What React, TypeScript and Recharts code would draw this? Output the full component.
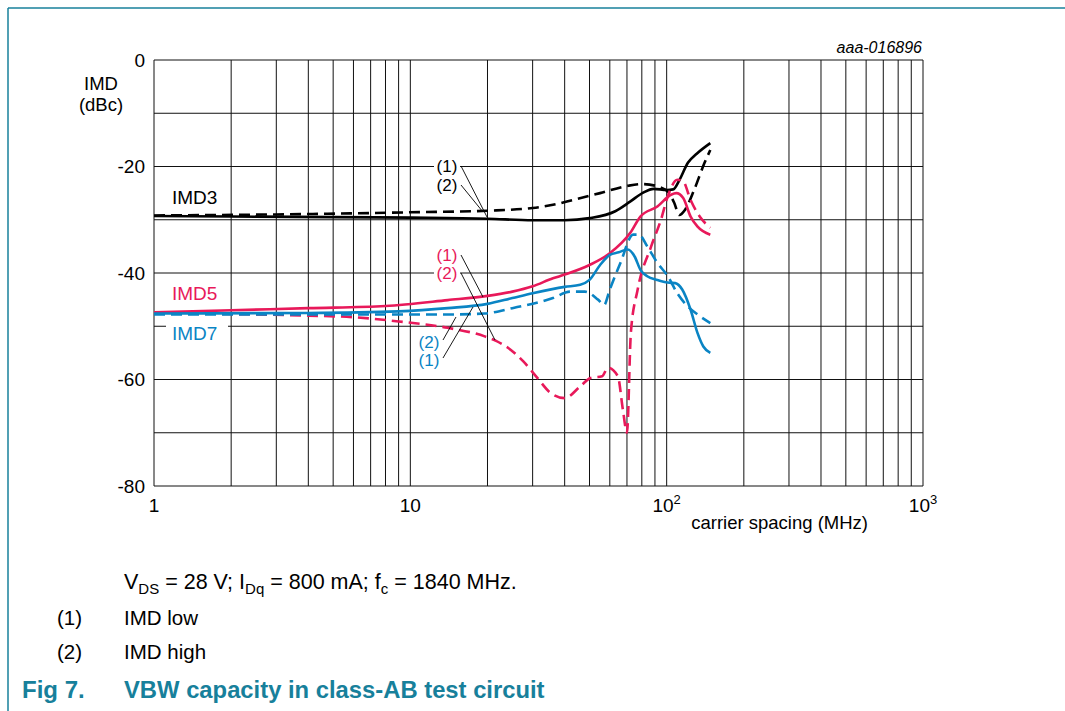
import React from 'react';
import { LineChart, Line, XAxis, YAxis, CartesianGrid } from 'recharts';

type Pt = { f: number; v: number };

// carrier spacing (MHz) vs IMD (dBc)
const imd3Low: Pt[] = [
  { f: 1, v: -29.3 }, { f: 2, v: -29.4 }, { f: 5, v: -29.5 }, { f: 10, v: -29.6 },
  { f: 20, v: -29.8 }, { f: 30, v: -30.1 }, { f: 40, v: -30.1 }, { f: 50, v: -29.7 },
  { f: 63, v: -28.4 }, { f: 72, v: -26.6 }, { f: 81, v: -24.9 }, { f: 89, v: -24.2 },
  { f: 100, v: -24.4 }, { f: 106, v: -24.3 }, { f: 112, v: -22.6 }, { f: 121, v: -19.3 },
  { f: 131, v: -17.6 }, { f: 148, v: -15.6 },
];

const imd3High: Pt[] = [
  { f: 1, v: -29.2 }, { f: 3, v: -29.0 }, { f: 6, v: -28.8 }, { f: 10, v: -28.6 },
  { f: 20, v: -28.3 }, { f: 30, v: -27.8 }, { f: 36, v: -27.2 }, { f: 43, v: -26.3 },
  { f: 55, v: -25.0 }, { f: 71, v: -23.6 }, { f: 81, v: -23.3 }, { f: 93, v: -23.8 },
  { f: 101, v: -24.7 }, { f: 107, v: -26.8 }, { f: 112, v: -29.1 }, { f: 118, v: -28.1 },
  { f: 128, v: -24.4 }, { f: 140, v: -19.5 }, { f: 148, v: -16.9 },
];

const imd5Low: Pt[] = [
  { f: 1, v: -47.4 }, { f: 2, v: -47.0 }, { f: 4, v: -46.6 }, { f: 8, v: -46.2 },
  { f: 14, v: -45.1 }, { f: 20, v: -44.3 }, { f: 25, v: -43.5 }, { f: 30, v: -42.5 },
  { f: 36, v: -41.0 }, { f: 40, v: -40.3 }, { f: 50, v: -38.5 }, { f: 60, v: -36.3 },
  { f: 72, v: -32.5 }, { f: 79, v: -29.4 }, { f: 92, v: -27.5 }, { f: 104, v: -25.3 },
  { f: 109, v: -25.0 }, { f: 116, v: -25.9 }, { f: 124, v: -29.4 }, { f: 132, v: -31.3 },
  { f: 148, v: -32.8 },
];

const imd5High: Pt[] = [
  { f: 1, v: -47.6 }, { f: 2, v: -47.7 }, { f: 4, v: -48.0 }, { f: 6, v: -48.3 },
  { f: 9, v: -49.1 }, { f: 14, v: -50.3 }, { f: 19.5, v: -51.9 }, { f: 21.5, v: -52.7 },
  { f: 24.6, v: -54.4 }, { f: 27.6, v: -56.6 }, { f: 31.3, v: -59.7 }, { f: 35, v: -62.4 },
  { f: 40, v: -63.5 }, { f: 46, v: -61.3 }, { f: 50.5, v: -59.7 }, { f: 56, v: -59.4 },
  { f: 59, v: -57.8 }, { f: 64.5, v: -59.4 }, { f: 67.5, v: -65.7 }, { f: 70, v: -70.0 },
  { f: 72.5, v: -51.2 }, { f: 77, v: -43.2 }, { f: 87, v: -35.0 }, { f: 95, v: -30.0 },
  { f: 101, v: -25.6 }, { f: 110, v: -22.5 }, { f: 116, v: -22.8 }, { f: 124, v: -26.3 },
  { f: 135, v: -29.5 }, { f: 148, v: -31.5 },
];

const imd7Low: Pt[] = [
  { f: 1, v: -47.6 }, { f: 4, v: -47.5 }, { f: 9, v: -47.2 }, { f: 14, v: -46.6 },
  { f: 20, v: -45.8 }, { f: 25, v: -44.7 }, { f: 30, v: -43.8 }, { f: 40, v: -42.6 },
  { f: 46, v: -42.2 }, { f: 50, v: -41.3 }, { f: 55, v: -38.5 }, { f: 60, v: -36.6 },
  { f: 65, v: -36.1 }, { f: 70.5, v: -35.6 }, { f: 75, v: -36.9 }, { f: 79, v: -39.4 },
  { f: 84, v: -40.6 }, { f: 92, v: -41.3 }, { f: 101, v: -41.8 }, { f: 108, v: -41.9 },
  { f: 115, v: -43.1 }, { f: 124, v: -46.9 }, { f: 132, v: -51.3 }, { f: 139, v: -53.8 },
  { f: 148, v: -55.0 },
];

const imd7High: Pt[] = [
  { f: 1, v: -47.8 }, { f: 6, v: -47.8 }, { f: 14, v: -47.8 }, { f: 19.5, v: -47.6 },
  { f: 25, v: -46.6 }, { f: 36, v: -44.7 }, { f: 42, v: -43.5 }, { f: 48, v: -43.5 },
  { f: 54, v: -45.0 }, { f: 57, v: -46.0 }, { f: 60, v: -43.1 }, { f: 66, v: -38.1 },
  { f: 74, v: -32.8 }, { f: 78, v: -32.8 }, { f: 84, v: -35.0 }, { f: 92, v: -38.1 },
  { f: 101, v: -40.6 }, { f: 110, v: -43.8 }, { f: 121, v: -46.3 }, { f: 132, v: -47.8 },
  { f: 148, v: -49.4 },
];

const xTicks = [
  1, 2, 3, 4, 5, 6, 7, 8, 9,
  10, 20, 30, 40, 50, 60, 70, 80, 90,
  100, 200, 300, 400, 500, 600, 700, 800, 900, 1000,
];
const xLabels: Record<number, [string, string]> = {
  1: ['1', ''], 10: ['10', ''], 100: ['10', '2'], 1000: ['10', '3'],
};
const yTicks = [-80, -70, -60, -50, -40, -30, -20, -10, 0];

const FONT = '"Liberation Sans", Arial, sans-serif';
const BLACK = '#000000';
const RED = '#E8195A';
const BLUE = '#0A84C4';
const TEAL = '#17809B';
const LW = 2.6;
const DASH = '11 6';

function XTick(props: any) {
  const { x, y, payload } = props;
  const lab = xLabels[payload.value];
  if (!lab) return null;
  return (
    <text x={x} y={y} dy="0.71em" textAnchor="middle" fontSize={19} fill="#000" fontFamily={FONT}>
      {lab[0]}
      {lab[1] && (
        <tspan dy={-8} fontSize={13}>
          {lab[1]}
        </tspan>
      )}
    </text>
  );
}

function Tag({ x, y, text, color, w }: { x: number; y: number; text: string; color: string; w: number }) {
  return (
    <g>
      <rect x={x - w / 2} y={y - 9} width={w} height={18} fill="#fff" />
      <text x={x} y={y} dy="0.35em" textAnchor="middle" fontSize={17} fill={color} fontFamily={FONT}>
        {text}
      </text>
    </g>
  );
}

export default function App() {
  return (
    <div style={{ position: 'absolute', left: 0, top: 0, width: 1065, height: 711, background: '#fff', overflow: 'hidden' }}>
      <LineChart
        width={1065}
        height={711}
        margin={{ top: 60, right: 142, left: 104, bottom: 195 }}
        style={{ position: 'absolute', left: 0, top: 0 }}
      >
        <CartesianGrid stroke="#111" strokeWidth={1} />
        <XAxis
          type="number"
          dataKey="f"
          scale="log"
          domain={[1, 1000]}
          ticks={xTicks}
          interval={0}
          allowDataOverflow
          axisLine={false}
          tickLine={false}
          tickSize={0}
          tickMargin={13}
          height={30}
          tick={<XTick />}
        />
        <YAxis
          type="number"
          domain={[-80, 0]}
          ticks={yTicks}
          interval={0}
          width={50}
          axisLine={false}
          tickLine={false}
          tickSize={0}
          tickMargin={9}
          tickFormatter={(v: number) => (v % 20 === 0 ? String(v) : '')}
          tick={{ fill: '#000', fontSize: 19, fontFamily: FONT }}
        />
        <Line data={imd3Low} dataKey="v" type="monotone" stroke={BLACK} strokeWidth={LW} dot={false} isAnimationActive={false} />
        <Line data={imd3High} dataKey="v" type="monotone" stroke={BLACK} strokeWidth={LW} strokeDasharray={DASH} dot={false} isAnimationActive={false} />
        <Line data={imd5Low} dataKey="v" type="monotone" stroke={RED} strokeWidth={LW} dot={false} isAnimationActive={false} />
        <Line data={imd5High} dataKey="v" type="monotone" stroke={RED} strokeWidth={LW} strokeDasharray={DASH} dot={false} isAnimationActive={false} />
        <Line data={imd7Low} dataKey="v" type="monotone" stroke={BLUE} strokeWidth={LW} dot={false} isAnimationActive={false} />
        <Line data={imd7High} dataKey="v" type="monotone" stroke={BLUE} strokeWidth={LW} strokeDasharray={DASH} dot={false} isAnimationActive={false} />
      </LineChart>

      <svg width={1065} height={711} style={{ position: 'absolute', left: 0, top: 0, pointerEvents: 'none' }} fontFamily={FONT}>
        {/* frame */}
        <line x1={8} y1={8} x2={1065} y2={8} stroke={TEAL} strokeWidth={1.5} />
        <line x1={8} y1={8} x2={8} y2={711} stroke={TEAL} strokeWidth={1.5} />

        <text x={922} y={53} textAnchor="end" fontSize={16} fontStyle="italic" fill="#000">aaa-016896</text>
        <text x={101} y={90} textAnchor="middle" fontSize={18.5} fill="#000">IMD</text>
        <text x={101} y={111} textAnchor="middle" fontSize={18.5} fill="#000">(dBc)</text>
        <text x={868} y={529} textAnchor="end" fontSize={18.5} fill="#000">carrier spacing (MHz)</text>

        {/* series names */}
        <rect x={166} y={186} width={62} height={21} fill="#fff" />
        <text x={172} y={204} fontSize={19} fill={BLACK}>IMD3</text>
        <rect x={166} y={283} width={62} height={21} fill="#fff" />
        <text x={172} y={300} fontSize={19} fill={RED}>IMD5</text>
        <rect x={166} y={323} width={62} height={21} fill="#fff" />
        <text x={172} y={340} fontSize={19} fill={BLUE}>IMD7</text>

        {/* leader lines */}
        <g stroke="#000" strokeWidth={0.9}>
          <line x1={461} y1={166} x2={487} y2={217} />
          <line x1={461} y1={185} x2={483} y2={212} />
          <line x1={461} y1={255} x2={483} y2={297} />
          <line x1={461} y1={273} x2={495} y2={340} />
          <line x1={443} y1={340} x2={456} y2={317} />
          <line x1={443} y1={358} x2={473} y2={307} />
        </g>
        <Tag x={447} y={166} text="(1)" color={BLACK} w={26} />
        <Tag x={447} y={185} text="(2)" color={BLACK} w={26} />
        <Tag x={447} y={255} text="(1)" color={RED} w={26} />
        <Tag x={447} y={273} text="(2)" color={RED} w={26} />
        <Tag x={429} y={342} text="(2)" color={BLUE} w={26} />
        <Tag x={429} y={360} text="(1)" color={BLUE} w={26} />

        {/* caption */}
        <text x={124} y={589} fontSize={21.5} fill="#000">
          V<tspan dy={5} fontSize={15}>DS</tspan>
          <tspan dy={-5}> = 28 V; I</tspan>
          <tspan dy={5} fontSize={15}>Dq</tspan>
          <tspan dy={-5}> = 800 mA; f</tspan>
          <tspan dy={5} fontSize={15}>c</tspan>
          <tspan dy={-5}> = 1840 MHz.</tspan>
        </text>
        <text x={57} y={625} fontSize={20.5} fill="#000">(1)</text>
        <text x={124} y={625} fontSize={20.5} fill="#000">IMD low</text>
        <text x={57} y={659} fontSize={20.5} fill="#000">(2)</text>
        <text x={124} y={659} fontSize={20.5} fill="#000">IMD high</text>
        <text x={22} y={698} fontSize={24} fontWeight="bold" fill={TEAL}>Fig 7.</text>
        <text x={124} y={698} fontSize={23.8} fontWeight="bold" fill={TEAL}>VBW capacity in class-AB test circuit</text>
      </svg>
    </div>
  );
}
